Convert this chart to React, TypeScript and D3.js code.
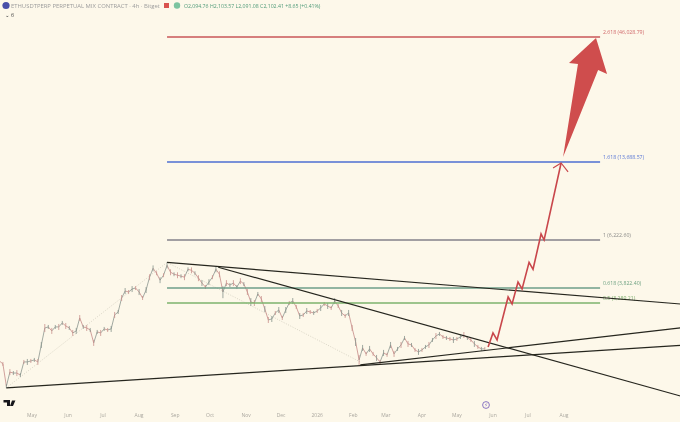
import * as d3 from 'd3'

const width = 680
const height = 422
const font = '"Open Sans", "DejaVu Sans", sans-serif'

// closes every 3 days from the first bar
const firstBar = new Date(2025, 3, 3)
const closes = [
  1841, 1787, 1430, 1647, 1631, 1631, 1598, 1823, 1823, 1841, 1860, 1823, 2161, 2562, 2588, 2487,
  2588, 2588, 2694, 2614, 2562, 2437, 2487, 2831, 2588, 2562, 2511, 2206, 2462, 2437, 2537, 2511,
  2537, 2918, 3006, 3458, 3709, 3672, 3784, 3822, 3672, 3458, 3746, 4266, 4668, 4440, 4140, 4352,
  4810, 4485, 4396, 4352, 4309, 4266, 4622, 4575, 4440, 4224, 4019, 3860, 4059, 4266, 4622, 4396,
  3672, 4019, 3938, 4019, 3860, 4100, 3978, 3672, 3323, 3290, 3600, 3424, 3098, 2776, 2803, 2977,
  3067, 2831, 3067, 3290, 3356, 3161, 2889, 2918, 3037, 3006, 2977, 3037, 3129, 3257, 3193, 3129,
  3356, 3193, 2977, 2889, 2977, 2562, 2228, 1860, 2098, 1976, 2077, 1976, 1898, 1823, 1996, 1957,
  2161, 1976, 2077, 2161, 2318, 2184, 2161, 2056, 2016, 2056, 2119, 2161, 2272, 2364, 2413, 2341,
  2318, 2295, 2272, 2295, 2341, 2388, 2318, 2272, 2184, 2119, 2077, 2077,
]
// rough wick size of each bar, percent either side of the close
const wicks = [
  3, 2, 2, 3, 2, 3, 2, 2, 3, 2, 2, 3, 3, 4, 2, 3,
  2, 3, 2, 3, 2, 3, 3, 3, 2, 3, 2, 3, 2, 3, 2, 2,
  3, 3, 2, 3, 3, 2, 3, 2, 3, 2, 3, 3, 3, 2, 3, 2,
  3, 3, 2, 3, 2, 3, 2, 3, 2, 3, 3, 2, 3, 2, 3, 3,
  6, 3, 2, 3, 2, 3, 2, 3, 4, 3, 2, 3, 3, 3, 3, 2,
  3, 2, 3, 2, 3, 2, 3, 2, 3, 2, 2, 2, 3, 2, 3, 2,
  3, 2, 3, 2, 3, 3, 4, 5, 3, 2, 3, 2, 3, 2, 3, 2,
  3, 3, 2, 3, 2, 3, 2, 2, 3, 2, 2, 3, 2, 3, 2, 2,
  2, 2, 3, 2, 2, 3, 2, 2, 3, 2, 2, 2,
]

const fibLevels = [
  { label: '2.618 (46,028.79)', price: 46028, color: '#c9575a', textColor: '#d0686a' },
  { label: '1.618 (13,688.57)', price: 13688, color: '#4c6fd2', textColor: '#5a78d6' },
  { label: '1 (6,222.60)', price: 6222, color: '#85828a', textColor: '#8a8a88' },
  { label: '0.618 (3,822.40)', price: 3822, color: '#6f9f8a', textColor: '#6fa283' },
  { label: '0.5 (3,289.21)', price: 3289, color: '#7db36c', textColor: '#7fb070' },
]
const fibStart = new Date(2025, 7, 25)
const fibEnd = new Date(2026, 8, 1)

// [date, price] end points
const trendLines: [string, number, string, number][] = [
  ['2025-04-09', 1406, '2026-11-09', 2150],
  ['2026-02-07', 1770, '2026-11-09', 2562],
  ['2025-08-25', 4956, '2026-11-09', 3257],
  ['2025-10-08', 4719, '2026-11-09', 1296],
]
const fibGuide: [string, number][] = [
  ['2025-04-09', 1406],
  ['2025-08-25', 4956],
  ['2026-02-07', 1823],
]

// days after 2025-05-01
const day0 = new Date(2025, 4, 1)
const pathDays = [391.8, 396, 399.5, 409, 412.4, 417.5, 421, 427, 430.4, 437.3, 439.9, 454.5]
const pathPrices = [2119, 2437, 2272, 3493, 3257, 4059, 3784, 4956, 4622, 6613, 6222, 13550]
const chevronDays = [447.6, 454.5, 460.5]
const chevronPrices = [12883, 13550, 12395]
const arrowDays = [456.2, 469, 461.3, 484.5, 494, 486.3]
const arrowPrices = [14370, 35430, 35790, 45620, 32170, 33420]

const monthLabels = [
  ['May', '2025-05-01'], ['Jun', '2025-06-01'], ['Jul', '2025-07-01'], ['Aug', '2025-08-01'],
  ['Sep', '2025-09-01'], ['Oct', '2025-10-01'], ['Nov', '2025-11-01'], ['Dec', '2025-12-01'],
  ['2026', '2026-01-01'], ['Feb', '2026-02-01'], ['Mar', '2026-03-01'], ['Apr', '2026-04-01'],
  ['May', '2026-05-01'], ['Jun', '2026-06-01'], ['Jul', '2026-07-01'], ['Aug', '2026-08-01'],
]

const parse = d3.timeParse('%Y-%m-%d')
const xScale = d3.scaleTime().domain([day0, new Date(2026, 7, 1)]).range([32, 564])
// price axis is log, slightly stretched towards the top
const yScale = d3.scaleLog().domain([1296, 3822, 6222, 13688, 46028]).range([396, 288, 240, 162, 37])

const dayX = (d: number) => xScale(d3.timeDay.offset(day0, Math.floor(d))) + (d % 1) * 1.164
const priceLine = d3.line<[number, number]>().x(d => dayX(d[0])).y(d => yScale(d[1]))

export default function App() {
  const bars = closes.map((c, i) => ({ x: xScale(d3.timeDay.offset(firstBar, i * 3)), y: yScale(c), c }))
  const fibX0 = xScale(fibStart)
  const fibX1 = xScale(fibEnd)

  return (
    <svg
      width={width}
      height={height}
      style={{ position: 'absolute', left: 0, top: 0, background: '#fdf8ea', fontFamily: font }}
    >
      <defs>
        <filter id="soft" x="-5%" y="-5%" width="110%" height="110%">
          <feGaussianBlur stdDeviation="0.3" />
        </filter>
      </defs>

      <g filter="url(#soft)">
        {/* legend */}
        <circle cx={6} cy={5.5} r={3.6} fill="#4a4fa8" />
        <text x={11} y={8} fontSize={5.9} fill="#9c9c9c">ETHUSDTPERP PERPETUAL MIX CONTRACT · 4h · Bitget</text>
        <rect x={164} y={3} width={5} height={5} fill="#d9534f" />
        <circle cx={177} cy={5.5} r={3.2} fill="#7cc4a0" />
        <text x={184} y={8} fontSize={5.2} fill="#4f9a78">O2,094.76 H2,103.57 L2,091.08 C2,102.41 +8.65 (+0.41%)</text>
        <text x={5} y={17} fontSize={5.5} fill="#444">⌄ 6</text>

        {/* fib guide */}
        <path
          d={d3.line<[string, number]>().x(d => xScale(parse(d[0])!)).y(d => yScale(d[1]))(fibGuide)!}
          fill="none"
          stroke="#b5b0a0"
          strokeWidth={0.5}
          strokeDasharray="1 1.5"
        />

        {/* price */}
        {bars.slice(1).map((b, i) => (
          <line
            key={i}
            x1={bars[i].x}
            y1={bars[i].y}
            x2={b.x}
            y2={b.y}
            stroke={b.c < bars[i].c ? '#c58a88' : '#8b968f'}
            strokeWidth={0.8}
          />
        ))}
        {bars.map((b, i) => (
          <line
            key={i}
            x1={b.x}
            x2={b.x}
            y1={yScale(b.c * (1 + wicks[i] / 100))}
            y2={yScale(b.c * (1 - wicks[i] / 100))}
            stroke={i % 2 ? '#c9908c' : '#87938b'}
            strokeWidth={0.8}
          />
        ))}

        {/* fib levels */}
        {fibLevels.map(l => (
          <g key={l.label}>
            <line x1={fibX0} x2={fibX1} y1={yScale(l.price)} y2={yScale(l.price)} stroke={l.color} strokeWidth={1.6} />
            <text x={603} y={yScale(l.price) - 3} fontSize={5.2} fill={l.textColor}>{l.label}</text>
          </g>
        ))}

        {/* trend lines */}
        {trendLines.map((t, i) => (
          <line
            key={i}
            x1={xScale(parse(t[0])!)}
            y1={yScale(t[1])}
            x2={xScale(parse(t[2])!)}
            y2={yScale(t[3])}
            stroke="#26261f"
            strokeWidth={1.2}
          />
        ))}

        {/* projection */}
        <path
          d={priceLine(pathDays.map((d, i) => [d, pathPrices[i]] as [number, number]))!}
          fill="none"
          stroke="#c9474c"
          strokeWidth={1.6}
        />
        <path
          d={priceLine(chevronDays.map((d, i) => [d, chevronPrices[i]] as [number, number]))!}
          fill="none"
          stroke="#c9474c"
          strokeWidth={1.2}
        />
        <path
          d={priceLine(arrowDays.map((d, i) => [d, arrowPrices[i]] as [number, number]))! + 'Z'}
          fill="#cf4e4e"
        />

        {/* time axis */}
        {monthLabels.map(([label, date], i) => (
          <text key={i} x={xScale(parse(date)!)} y={417} fontSize={5} textAnchor="middle" fill="#aaa79f">{label}</text>
        ))}

        {/* logo and event marker */}
        <path d="M3.5 400h6.5v6h-3v-3.6h-3.5zM12 400.6h3.4l-2.4 5.4h-3z" fill="#16161a" />
        <circle cx={486} cy={405} r={3.4} fill="none" stroke="#6d55b8" strokeWidth={0.8} />
        <text x={486} y={407} fontSize={5} textAnchor="middle" fill="#6d55b8">⚡</text>
      </g>
    </svg>
  )
}
